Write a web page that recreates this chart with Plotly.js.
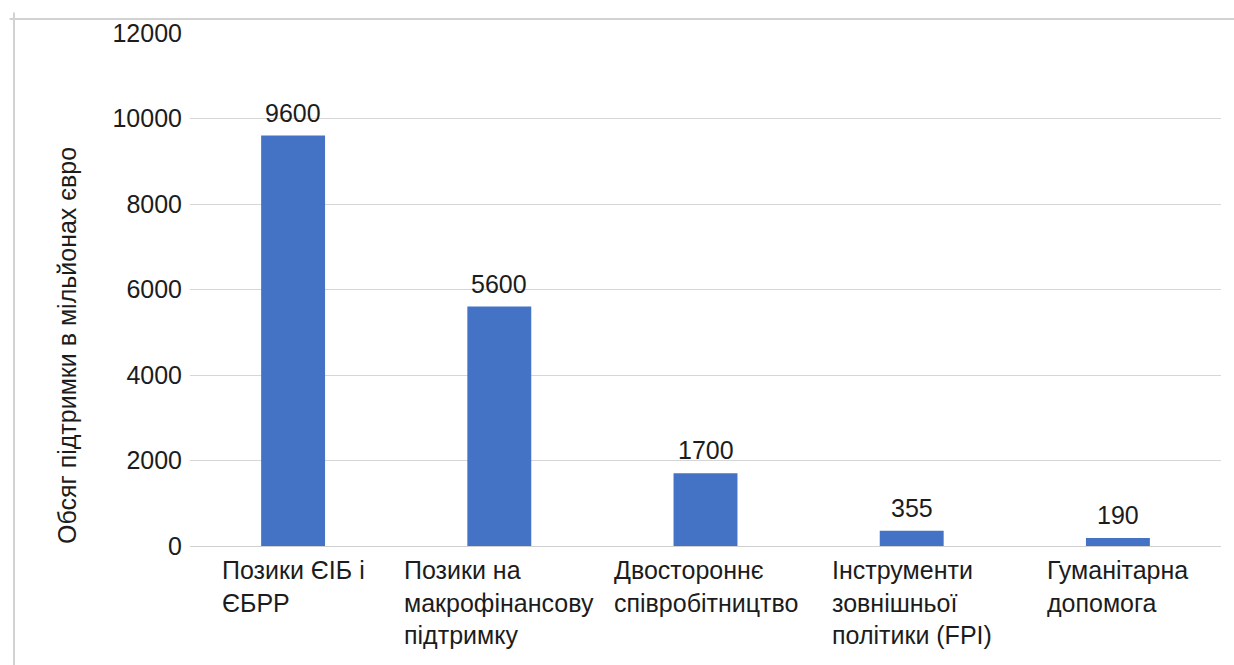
<!DOCTYPE html>
<html>
<head>
<meta charset="utf-8">
<script src="https://cdn.plot.ly/plotly-3.0.1.min.js"></script>
<style>
html,body{margin:0;padding:0;background:#fff;}
#chart{width:1234px;height:665px;}
</style>
</head>
<body>
<div id="chart"></div>
<script>
// Data
var categories = ["Позики ЄІБ і ЄБРР", "Позики на макрофінансову підтримку", "Двостороннє співробітництво", "Інструменти зовнішньої політики (FPI)", "Гуманітарна допомога"];
var tickLabels = ["Позики ЄІБ і<br>ЄБРР", "Позики на<br>макрофінансову<br>підтримку", "Двостороннє<br>співробітництво", "Інструменти<br>зовнішньої<br>політики (FPI)", "Гуманітарна<br>допомога"];
var values = [9600, 5600, 1700, 355, 190];
var yTitle = "Обсяг підтримки в мільйонах євро";

var FONT = "Liberation Sans, Arial, sans-serif";
var TXT = "#1c1c1c";
var FS = 25;

var trace = {
  type: "bar",
  x: categories,
  y: values,
  marker: {color: "#4472C4"},
  hoverinfo: "none"
};

var annotations = [];
for (var i = 0; i < categories.length; i++) {
  annotations.push({
    xref: "x", yref: "y", x: categories[i], y: values[i],
    text: String(values[i]), showarrow: false,
    xanchor: "center", yanchor: "bottom", yshift: 7,
    font: {family: FONT, size: FS, color: TXT}
  });
  annotations.push({
    xref: "x", yref: "paper", x: categories[i], y: 0,
    text: tickLabels[i], showarrow: false, align: "left",
    xanchor: "center", yanchor: "top", yshift: -8,
    font: {family: FONT, size: FS, color: TXT}
  });
}
annotations.push({
  xref: "paper", yref: "paper", x: -0.1193, y: 0.39,
  text: yTitle, textangle: -90, showarrow: false,
  xanchor: "center", yanchor: "middle",
  font: {family: FONT, size: FS, color: TXT}
});

var layout = {
  width: 1234, height: 665,
  margin: {l: 190, r: 13, t: 33, b: 119},
  paper_bgcolor: "#ffffff", plot_bgcolor: "#ffffff",
  showlegend: false,
  bargap: 0.69,
  font: {family: FONT, size: FS, color: TXT},
  xaxis: {
    type: "category", showticklabels: false, showgrid: false,
    zeroline: false, showline: false, ticks: ""
  },
  yaxis: {
    range: [0, 12000], dtick: 2000, tick0: 0, tickformat: "d",
    showgrid: true, gridcolor: "#d6d6d6", gridwidth: 1,
    zeroline: true, zerolinecolor: "#d0d0d0", zerolinewidth: 1,
    showline: false, ticks: "outside", ticklen: 2, tickcolor: "rgba(0,0,0,0)",
    tickfont: {family: FONT, size: FS, color: TXT}
  },
  annotations: annotations,
  shapes: [
    {type: "line", xref: "paper", yref: "paper", x0: -0.175, x1: 1.02, y0: 1.0273, y1: 1.0273,
     line: {color: "#d2d2d2", width: 2}},
    {type: "line", xref: "paper", yref: "paper", x0: -0.1707, x1: -0.1707, y0: 1.04, y1: -0.3,
     line: {color: "#d2d2d2", width: 2}}
  ]
};

Plotly.newPlot("chart", [trace], layout, {displayModeBar: false, staticPlot: true});
</script>
</body>
</html>
